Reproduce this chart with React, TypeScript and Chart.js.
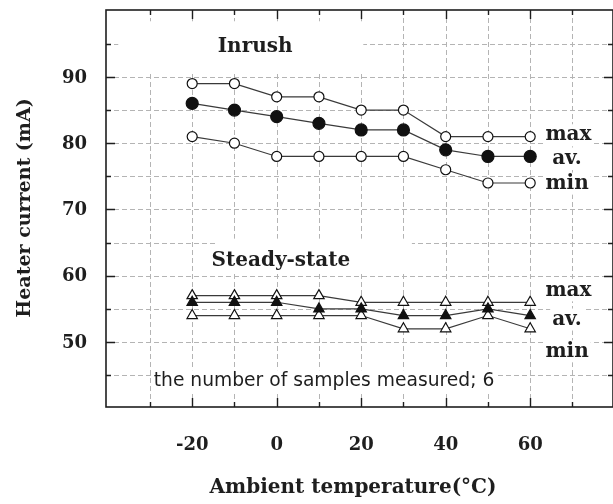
import React, { useEffect, useRef } from "react";
import { Chart, registerables } from "chart.js";

Chart.register(...registerables);

// Ambient temperature (°C) at which the heater current was measured
const temps = [-20, -10, 0, 10, 20, 30, 40, 50, 60];

// Inrush heater current (mA)
const inrushMax = [89, 89, 87, 87, 85, 85, 81, 81, 81];
const inrushAv = [86, 85, 84, 83, 82, 82, 79, 78, 78];
const inrushMin = [81, 80, 78, 78, 78, 78, 76, 74, 74];

// Steady-state heater current (mA)
const steadyMax = [57, 57, 57, 57, 56, 56, 56, 56, 56];
const steadyAv = [56, 56, 56, 55, 55, 54, 54, 55, 54];
const steadyMin = [54, 54, 54, 54, 54, 52, 52, 54, 52];

const xTicks = [-20, 0, 20, 40, 60];
const yTicks = [50, 60, 70, 80, 90];

const SERIF = "'DejaVu Serif', 'Liberation Serif', serif";
const SANS = "'DejaVu Sans', 'Liberation Sans', sans-serif";
const INK = "#1e1e1e";

const pts = (ys: number[]) => temps.map((t, i) => ({ x: t, y: ys[i] }));

const series = (
  label: string,
  ys: number[],
  style: "circle" | "triangle",
  filled: boolean,
  radius: number
) => ({
  label,
  data: pts(ys),
  borderColor: "#3a3a3a",
  borderWidth: 1.2,
  pointStyle: style,
  pointRadius: radius,
  pointBackgroundColor: filled ? "#111" : "#fff",
  pointBorderColor: "#111",
  pointBorderWidth: 1.2,
  tension: 0,
  fill: false,
});

const framePlugin = {
  id: "frameAndNotes",
  beforeDatasetsDraw(chart: any) {
    const { ctx, chartArea: a, scales } = chart;
    const xs = scales.x;
    const ys = scales.y;
    ctx.save();
    // dashed grid every 10 °C and every 5 mA
    ctx.strokeStyle = "#b4b4b4";
    ctx.lineWidth = 1;
    ctx.setLineDash([5, 3]);
    for (let v = -30; v <= 70; v += 10) {
      const px = Math.round(xs.getPixelForValue(v)) + 0.5;
      ctx.beginPath();
      ctx.moveTo(px, a.top);
      ctx.lineTo(px, a.bottom);
      ctx.stroke();
    }
    for (let v = 45; v <= 95; v += 5) {
      const py = Math.round(ys.getPixelForValue(v)) + 0.5;
      ctx.beginPath();
      ctx.moveTo(a.left, py);
      ctx.lineTo(a.right, py);
      ctx.stroke();
    }
    ctx.setLineDash([]);

    // white patches behind the group headings
    const patch = (x0: number, x1: number, y0: number, y1: number) => {
      const l = xs.getPixelForValue(x0);
      const r = xs.getPixelForValue(x1);
      const t = ys.getPixelForValue(y0);
      const b = ys.getPixelForValue(y1);
      ctx.fillStyle = "#fff";
      ctx.fillRect(l, t, r - l, b - t);
    };
    patch(-37.5, 20.5, 98.4, 90.6);
    patch(-14.5, 32, 65.6, 60.6);

    const note = (
      text: string,
      xv: number,
      yv: number,
      font: string,
      align: CanvasTextAlign = "center",
      pad = 2
    ) => {
      ctx.font = font;
      const w = ctx.measureText(text).width;
      const px = xs.getPixelForValue(xv);
      const py = ys.getPixelForValue(yv);
      const left = align === "center" ? px - w / 2 : px;
      ctx.fillStyle = "#fff";
      ctx.fillRect(left - pad, py - 11, w + pad * 2, 22);
      ctx.fillStyle = INK;
      ctx.textAlign = align;
      ctx.textBaseline = "middle";
      ctx.fillText(text, px, py);
    };
    const bold = `bold 20px ${SERIF}`;
    note("Inrush", -5.1, 94.6, bold);
    note("Steady-state", 1, 62.2, bold);
    note("max", 63.6, 81.2, bold, "left");
    note("av.", 65.2, 77.7, bold, "left");
    note("min", 63.6, 73.9, bold, "left");
    note("max", 63.6, 57.8, bold, "left");
    note("av.", 65.2, 53.4, bold, "left");
    note("min", 63.6, 48.6, bold, "left");
    note("the number of samples measured; 6", 11.2, 44.1, `18.7px ${SANS}`);
    ctx.restore();
  },
  afterDraw(chart: any) {
    const { ctx, chartArea: a, scales } = chart;
    const xs = scales.x;
    const ys = scales.y;
    ctx.save();
    ctx.strokeStyle = INK;
    ctx.lineWidth = 1.6;
    ctx.strokeRect(a.left, a.top, a.right - a.left, a.bottom - a.top);

    // inward tick marks: long at every 10 mA, short at the halves
    ctx.lineWidth = 1.4;
    for (let v = 45; v <= 95; v += 5) {
      const tl = v % 10 === 0 ? 9 : 5;
      const py = Math.round(ys.getPixelForValue(v)) + 0.5;
      ctx.beginPath();
      ctx.moveTo(a.left, py);
      ctx.lineTo(a.left + tl, py);
      ctx.moveTo(a.right, py);
      ctx.lineTo(a.right - tl, py);
      ctx.stroke();
    }
    for (let v = -30; v <= 70; v += 10) {
      const tl = xTicks.includes(v) ? 9 : 5;
      const px = Math.round(xs.getPixelForValue(v)) + 0.5;
      ctx.beginPath();
      ctx.moveTo(px, a.bottom);
      ctx.lineTo(px, a.bottom - tl);
      ctx.moveTo(px, a.top);
      ctx.lineTo(px, a.top + tl);
      ctx.stroke();
    }

    // tick labels taken from the scales
    ctx.fillStyle = INK;
    ctx.font = `bold 18px ${SERIF}`;
    ctx.textBaseline = "middle";
    ctx.textAlign = "center";
    for (const t of xs.ticks) {
      ctx.fillText(String(t.value), xs.getPixelForValue(t.value), a.bottom + 38);
    }
    ctx.textAlign = "right";
    for (const t of ys.ticks) {
      ctx.fillText(String(t.value), a.left - 19, ys.getPixelForValue(t.value) + 1);
    }

    // axis titles
    ctx.font = `bold 20px ${SERIF}`;
    ctx.textAlign = "center";
    ctx.fillText("Ambient temperature(°C)", 353, 488);
    ctx.translate(25, 208);
    ctx.rotate(-Math.PI / 2);
    ctx.font = `bold 19px ${SERIF}`;
    ctx.fillText("Heater current (mA)", 0, 0);
    ctx.restore();
  },
};

export default function App() {
  const ref = useRef<HTMLCanvasElement>(null);

  useEffect(() => {
    if (!ref.current) return;
    const chart = new Chart(ref.current, {
      type: "line",
      data: {
        datasets: [
          series("Inrush max", inrushMax, "circle", false, 5),
          series("Inrush min", inrushMin, "circle", false, 5),
          series("Inrush av.", inrushAv, "circle", true, 6),
          series("Steady-state av.", steadyAv, "triangle", true, 6),
          series("Steady-state max", steadyMax, "triangle", false, 6),
          series("Steady-state min", steadyMin, "triangle", false, 6),
        ],
      },
      options: {
        responsive: false,
        animation: false,
        layout: { autoPadding: false, padding: { left: 0, top: 10, right: 0, bottom: 0 } },
        plugins: {
          legend: { display: false },
          tooltip: { enabled: false },
          title: { display: false },
        },
        scales: {
          x: {
            type: "linear",
            min: -40.4,
            max: 79.6,
            grid: { display: false, drawTicks: false },
            border: { display: false },
            afterBuildTicks: (s: any) => {
              s.ticks = xTicks.map((v) => ({ value: v }));
            },
            afterFit: (s: any) => {
              s.height = 97;
            },
            ticks: { display: false, padding: 0 },
          },
          y: {
            type: "linear",
            min: 40.2,
            max: 100.1,
            grid: { display: false, drawTicks: false },
            border: { display: false },
            afterBuildTicks: (s: any) => {
              s.ticks = yTicks.map((v) => ({ value: v }));
            },
            afterFit: (s: any) => {
              s.width = 106;
            },
            ticks: { display: false, padding: 0 },
          },
        },
      },
      plugins: [framePlugin],
    });
    return () => chart.destroy();
  }, []);

  return (
    <div style={{ position: "fixed", left: 0, top: 0, width: 613, height: 504, background: "#fff" }}>
      <canvas ref={ref} width={613} height={504} style={{ display: "block" }} />
    </div>
  );
}
